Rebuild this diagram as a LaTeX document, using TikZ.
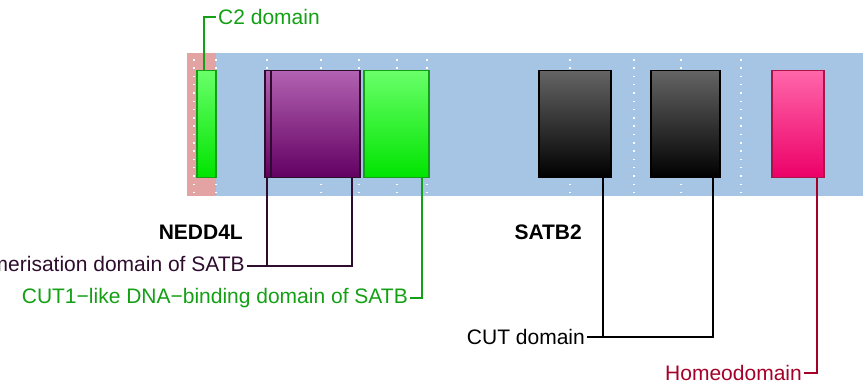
\documentclass[tikz,border=0pt]{standalone}
\usepackage{fontspec}
\setmainfont{Liberation Sans}
\usepackage{tikz}
\usetikzlibrary{calc,positioning}
\usepackage{xcolor}

\definecolor{bandblue}{RGB}{166,196,228}
\definecolor{bandpink}{RGB}{227,163,163}
\definecolor{cgreen}{RGB}{20,160,20}
\definecolor{cpurple}{RGB}{45,12,45}
\definecolor{cred}{RGB}{165,0,40}

\tikzset{
    domlbl/.style={font=\fontsize{21}{25}\selectfont, inner sep=2pt},
    genelbl/.style={domlbl, font=\fontsize{21}{25}\selectfont\bfseries},
    dombox/.style={draw, line width=1.2pt, inner sep=0pt, minimum height=107pt},
    greenbox/.style={dombox, draw=cgreen, top color={rgb,255:red,105;green,255;blue,105}, bottom color={rgb,255:red,0;green,228;blue,0}},
    purplebox/.style={dombox, draw=cpurple, top color={rgb,255:red,178;green,98;blue,178}, bottom color={rgb,255:red,98;green,0;blue,98}},
    blackbox/.style={dombox, draw=black, top color={rgb,255:red,100;green,100;blue,100}, bottom color=black},
    pinkbox/.style={dombox, draw={rgb,255:red,170;green,20;blue,70}, top color={rgb,255:red,255;green,102;blue,170}, bottom color={rgb,255:red,236;green,0;blue,104}},
    griddots/.style={white, line width=1.5pt, dash pattern=on 1.5pt off 6.8pt},
    link/.style={line width=1.5pt}
}

\begin{document}
\begin{tikzpicture}[x=1pt, y=-1pt]
        \useasboundingbox (0,0) rectangle (863,386);

        % Background bands
        \fill[bandpink] (187,53) rectangle (216,196);
        \fill[bandblue] (216,53) rectangle (863,196);
        \foreach \x in {194,216,267,321,359,397,427,570,634,681,741}
            \draw[griddots] (\x,59) -- (\x,193);

        % --- Domain boxes ---
        \node[greenbox, minimum width=19pt] (c2) at (206.5,124) {};
        \node[purplebox, minimum width=95pt] (uldA) at (312.5,124) {};
        \node[purplebox, minimum width=89pt] (uldB) at (315.5,124) {};
        \node[greenbox, minimum width=65pt] (cut1) at (396.5,124) {};
        \node[blackbox, minimum width=72pt] (cutA) at (575,124) {};
        \node[blackbox, minimum width=69pt] (cutB) at (685.5,124) {};
        \node[pinkbox, minimum width=52pt] (homeo) at (798,124) {};

        % Connector feet
        \coordinate (c2top) at (204,70.5);
        \coordinate (uldAbot) at (267,177.5);
        \coordinate (uldBbot) at (352,177.5);
        \coordinate (cut1bot) at (422,177.5);
        \coordinate (cutAbot) at (603,177.5);
        \coordinate (cutBbot) at (713,177.5);
        \coordinate (homeobot) at (817,177.5);

        % --- Labels ---
        \node[domlbl, text=cgreen, anchor=west] (c2lbl) at (216,17) {C2 domain};
        \node[genelbl, anchor=east] (nedd) at (245,232) {NEDD4L};
        \node[genelbl, anchor=east] (satb) at (584,232) {SATB2};
        \node[domlbl, text=cpurple, anchor=east] (uldlbl) at (247,266) {Ubiquitin−like oligomerisation domain of SATB};
        \node[domlbl, text=cgreen, anchor=east] (cut1lbl) at (410,298) {CUT1−like DNA−binding domain of SATB};
        \node[domlbl, anchor=east] (cutlbl) at (587,337) {CUT domain};
        \node[domlbl, text=cred, anchor=east] (homeolbl) at (804,373) {Homeodomain};

        % --- Connectors ---
        \draw[link, cgreen] (c2top) |- (c2lbl.west);
        \draw[link, cpurple] (uldlbl.east) -| (uldBbot);
        \draw[link, cpurple] (uldAbot) |- (uldlbl.east);
        \draw[link, cgreen] (cut1lbl.east) -| (cut1bot);
        \draw[link] (cutlbl.east) -| (cutBbot);
        \draw[link] (cutAbot) |- (cutlbl.east);
        \draw[link, cred] (homeolbl.east) -| (homeobot);
    \end{tikzpicture}
\end{document}
